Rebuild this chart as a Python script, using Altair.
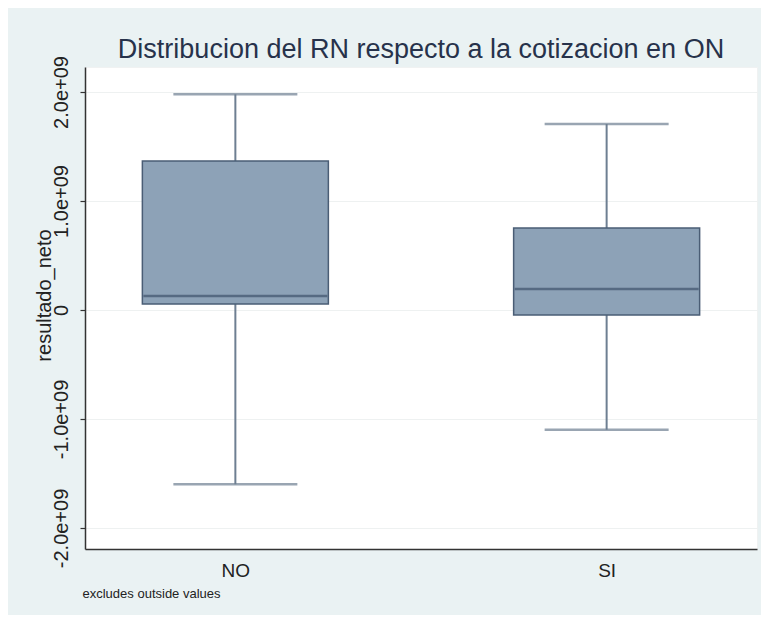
import altair as alt
import pandas as pd

categories = ["NO", "SI"]
lower_whisker = [-1.60e9, -1.10e9]
q1 = [0.055e9, -0.046e9]
median = [0.128e9, 0.193e9]
q3 = [1.367e9, 0.752e9]
upper_whisker = [1.98e9, 1.706e9]
y_ticks = [-2e9, -1e9, 0, 1e9, 2e9]

df = pd.DataFrame({
    "grupo": categories,
    "lower": lower_whisker,
    "q1": q1,
    "median": median,
    "q3": q3,
    "upper": upper_whisker,
})

BG = "#eaf2f3"
FILL = "#8da2b7"
STROKE = "#4a5d75"
WHISK = "#6e7f92"
TXT = "#222222"
FONT = "Liberation Sans"

x_enc = alt.X(
    "grupo:N",
    sort=categories,
    scale=alt.Scale(type="point", padding=0.405),
    axis=alt.Axis(
        title="excludes outside values",
        titleAnchor="start",
        titleAlign="left",
        titleX=-3,
        titleY=38,
        titleFontSize=13,
        titleFontWeight="normal",
        titleColor=TXT,
        titleFont=FONT,
        labelAngle=0,
        labelFontSize=19,
        labelColor=TXT,
        labelPadding=12,
        labelFont=FONT,
        ticks=False,
        domainColor="#333333",
        domainWidth=1.5,
        grid=False,
    ),
)

y_scale = alt.Scale(domain=[-2.193e9, 2.229e9], nice=False, zero=False)

y_axis = alt.Axis(
    title="resultado_neto",
    values=y_ticks,
    labelExpr="datum.value == 0 ? '0' : (datum.value < 0 ? '-' : '') + format(abs(datum.value) / 1e9, '.1f') + 'e+09'",
    labelAngle=270,
    labelAlign="center",
    labelBaseline="bottom",
    labelPadding=9,
    labelFontSize=20,
    labelColor=TXT,
    labelFont=FONT,
    tickSize=5,
    tickColor="#333333",
    tickWidth=1.2,
    domainColor="#333333",
    domainWidth=1.5,
    grid=True,
    gridColor="#eef1f1",
    gridWidth=1,
    titleFontSize=20,
    titleFontWeight="normal",
    titleColor=TXT,
    titleFont=FONT,
    titleX=-31,
    titleY=228,
)

base = alt.Chart(df)

whisk = base.mark_rule(color=WHISK, strokeWidth=2).encode(
    x=x_enc,
    y=alt.Y("lower:Q", scale=y_scale, axis=y_axis),
    y2="upper:Q",
)

caps_low = base.mark_tick(color=WHISK, size=124, thickness=2.5, orient="horizontal").encode(
    x=x_enc, y=alt.Y("lower:Q", scale=y_scale)
)
caps_up = base.mark_tick(color=WHISK, size=124, thickness=2.5, orient="horizontal").encode(
    x=x_enc, y=alt.Y("upper:Q", scale=y_scale)
)

box = base.mark_bar(size=186, color=FILL, stroke=STROKE, strokeWidth=1.5).encode(
    x=x_enc, y=alt.Y("q1:Q", scale=y_scale), y2="q3:Q"
)

med = base.mark_tick(color="#3f526b", size=184, thickness=2.5, orient="horizontal").encode(
    x=x_enc, y=alt.Y("median:Q", scale=y_scale)
)

chart = alt.layer(whisk, caps_low, caps_up, box, med).properties(
    width=672,
    height=482,
    background=BG,
    padding={"left": 77, "top": 59, "right": 4, "bottom": 66},
    autosize=alt.AutoSizeParams(type="none"),
    title=alt.TitleParams(
        "Distribucion del RN respecto a la cotizacion en ON",
        font=FONT,
        fontSize=27,
        fontWeight="normal",
        color="#27324b",
        anchor="middle",
        offset=9,
        dy=17,
    ),
).configure_view(
    fill="white",
    stroke="#f0f2f2",
    strokeWidth=1,
)

chart.save("out.html", embed_options={"renderer": "svg", "actions": False})
